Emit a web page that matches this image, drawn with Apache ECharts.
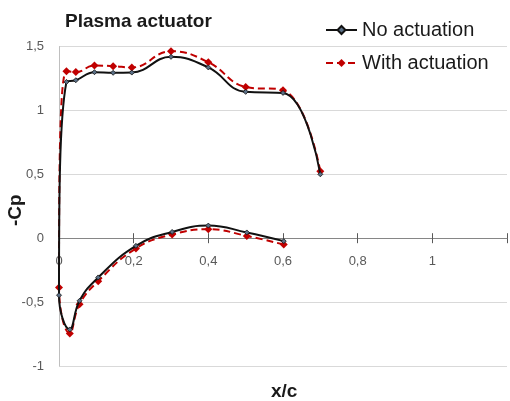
<!DOCTYPE html>
<html>
<head>
<meta charset="utf-8">
<script src="https://cdn.jsdelivr.net/npm/echarts@6/dist/echarts.min.js"></script>
<style>
  html, body { margin: 0; padding: 0; background: #fff; }
  #chart { width: 510px; height: 401px; }
</style>
</head>
<body>
<div id="chart"></div>
<script>
// Cp distribution (upper surface TE -> LE, then lower surface LE -> TE)
const xPos = [0.7, 0.6, 0.5, 0.4, 0.3, 0.195, 0.145, 0.095, 0.045, 0.02, 0, 0.029, 0.055, 0.105, 0.206, 0.303, 0.4, 0.503, 0.602];
const noActuation = [0.50, 1.137, 1.145, 1.336, 1.419, 1.296, 1.294, 1.299, 1.236, 1.223, -0.446, -0.714, -0.49, -0.307, -0.06, 0.049, 0.099, 0.045, -0.023];
const withActuation = [0.524, 1.158, 1.184, 1.377, 1.463, 1.336, 1.346, 1.351, 1.30, 1.307, -0.386, -0.746, -0.516, -0.336, -0.08, 0.029, 0.07, 0.018, -0.05];

const xTicks = [0, 0.2, 0.4, 0.6, 0.8, 1];
const yTicks = [-1, -0.5, 0, 0.5, 1, 1.5];

const FONT = '"Liberation Sans", Arial, sans-serif';
const comma = v => String(v).replace('.', ',');

const pairs = ys => xPos.map((x, i) => [x, ys[i]]);

const chart = echarts.init(document.getElementById('chart'), null, { renderer: 'canvas' });

const TOP = 46.5, BOTTOM = 35, H = 401 - TOP - BOTTOM;
const Y_MIN = -1, Y_MAX = 1.5;
// x axis sits on y = 0: shift it up from the grid bottom
const zeroOffset = -H * (0 - Y_MIN) / (Y_MAX - Y_MIN);

const option = {
  animation: false,
  backgroundColor: '#fff',
  title: {
    text: 'Plasma actuator',
    left: 60,
    top: 7,
    textStyle: { fontFamily: FONT, fontSize: 19, fontWeight: 'bold', color: '#1a1a1a' }
  },
  legend: {
    orient: 'vertical',
    left: 320,
    top: 15,
    itemWidth: 31,
    itemHeight: 10,
    itemGap: 13,
    textStyle: { fontFamily: FONT, fontSize: 20, color: '#1a1a1a' },
    data: ['No actuation', 'With actuation']
  },
  grid: { left: 59, right: -45, top: TOP, bottom: BOTTOM, containLabel: false },
  xAxis: [
    {
      type: 'value',
      position: 'bottom', offset: zeroOffset,
      min: 0, max: 1.2, interval: 0.2,
      axisLine: { onZero: false, lineStyle: { color: '#868686', width: 1 } },
      axisTick: { show: true, length: 5, lineStyle: { color: '#595959' } },
      axisLabel: {
        margin: 17, fontFamily: FONT, fontSize: 13, color: '#595959',
        formatter: v => xTicks.includes(+v.toFixed(2)) ? comma(+v.toFixed(2)) : ''
      },
      splitLine: { show: false }
    },
    {
      // inward half of the cross ticks
      type: 'value',
      position: 'bottom', offset: zeroOffset,
      min: 0, max: 1.2, interval: 0.2,
      axisLine: { show: false, onZero: false },
      axisTick: { show: true, inside: true, length: 5, lineStyle: { color: '#595959' } },
      axisLabel: { show: false },
      splitLine: { show: false }
    }
  ],
  yAxis: {
    type: 'value',
    min: Y_MIN, max: Y_MAX, interval: 0.5,
    axisLine: { show: true, lineStyle: { color: '#bfbfbf' } },
    axisTick: { show: false },
    axisLabel: {
      margin: 15, fontFamily: FONT, fontSize: 13, color: '#595959',
      formatter: v => yTicks.includes(+v.toFixed(2)) ? comma(+v.toFixed(2)) : ''
    },
    splitLine: { lineStyle: { color: '#d9d9d9', width: 1 } }
  },
  graphic: [
    {
      type: 'text', left: 271, top: 382,
      style: { text: 'x/c', font: 'bold 19px ' + FONT, fill: '#1a1a1a' }
    },
    {
      type: 'text', x: 6, y: 226, rotation: Math.PI / 2,
      style: { text: '-Cp', font: 'bold 19px ' + FONT, fill: '#1a1a1a' }
    }
  ],
  series: [
    {
      name: 'No actuation',
      type: 'line',
      data: pairs(noActuation),
      smooth: 0.45,
      symbol: 'diamond',
      symbolSize: 5,
      lineStyle: { color: '#111', width: 2 },
      itemStyle: { color: '#5b7087', borderColor: '#111', borderWidth: 0.8 },
      z: 3
    },
    {
      name: 'With actuation',
      type: 'line',
      data: pairs(withActuation),
      smooth: 0.45,
      symbol: 'diamond',
      symbolSize: 8,
      lineStyle: { color: '#c00000', width: 2, type: [7, 4] },
      itemStyle: { color: '#c00000' },
      z: 2
    }
  ]
};

chart.setOption(option);
</script>
</body>
</html>
